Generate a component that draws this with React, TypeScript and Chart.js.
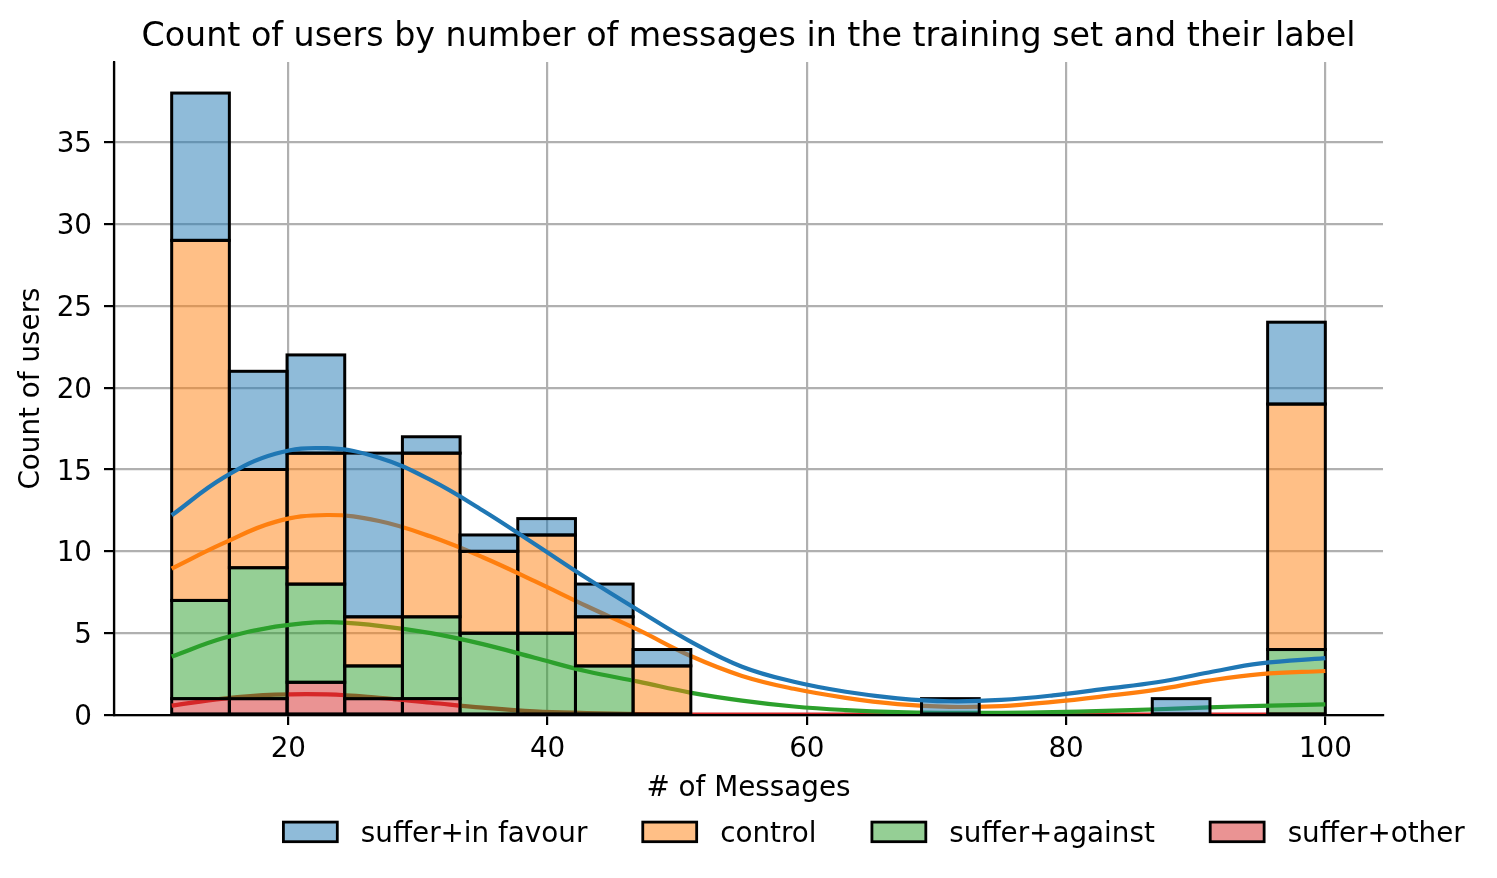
import React, { useEffect, useRef } from "react";
import { Chart, registerables } from "chart.js";

Chart.register(...registerables);

// Stacked histogram (seaborn style) with KDE curves
// - bars are floating segments so each hue layer can be drawn bar -> line -> next bar
// - bar outlines are stroked centred on the edge, like matplotlib

const FONT = "'DejaVu Sans', sans-serif";

const titleText =
  "Count of users by number of messages in the training set and their label";

const binEdges = [
  11, 15.45, 19.9, 24.35, 28.8, 33.25, 37.7, 42.15, 46.6, 51.05, 55.5, 59.95,
  64.4, 68.85, 73.3, 77.75, 82.2, 86.65, 91.1, 95.55, 100,
];

// counts per bin (stack order bottom -> top: other, against, control, favour)
const otherCounts = [1, 1, 2, 1, 1, 0, 0, 0, 0, 0, 0, 0, 0, 0, 0, 0, 0, 0, 0, 0];
const againstCounts = [6, 8, 6, 2, 5, 5, 5, 3, 0, 0, 0, 0, 0, 0, 0, 0, 0, 0, 0, 4];
const controlCounts = [22, 6, 8, 3, 10, 5, 6, 3, 3, 0, 0, 0, 0, 0, 0, 0, 0, 0, 0, 15];
const favourCounts = [9, 6, 6, 10, 1, 1, 1, 2, 1, 0, 0, 0, 0, 1, 0, 0, 0, 1, 0, 5];

// kde curves
const kdeX = [11, 15, 19, 23, 27, 31, 35, 39, 43, 47, 51, 55, 59, 63, 67, 71, 75, 79, 83, 87, 91, 95, 100];
const favourKde = [12.2, 14.5, 15.96, 16.3, 15.72, 14.35, 12.5, 10.45, 8.37, 6.4, 4.5, 2.95, 2.03, 1.42, 1.02, 0.84, 0.92, 1.2, 1.6, 2.0, 2.6, 3.15, 3.47];
const controlKde = [8.95, 10.5, 11.8, 12.22, 11.85, 10.9, 9.64, 8.18, 6.66, 5.2, 3.62, 2.39, 1.6, 1.05, 0.67, 0.5, 0.54, 0.8, 1.15, 1.55, 2.1, 2.5, 2.69];
const againstKde = [3.57, 4.7, 5.4, 5.68, 5.45, 5.0, 4.33, 3.5, 2.67, 2.04, 1.37, 0.88, 0.52, 0.3, 0.17, 0.13, 0.13, 0.17, 0.25, 0.35, 0.47, 0.56, 0.65];
const otherKde = [0.57, 1.0, 1.24, 1.26, 1.05, 0.75, 0.45, 0.22, 0.12, 0.06, 0.03, 0.02, 0.02, 0.02, 0.02, 0.02, 0.02, 0.02, 0.02, 0.02, 0.02, 0.02, 0.02];

const xTicks = [20, 40, 60, 80, 100];
const yTicks = [0, 5, 10, 15, 20, 25, 30, 35];

interface Series {
  label: string;
  counts: number[];
  kde: number[];
  line: string;
  fill: string;
}

// bottom layer first
const series: Series[] = [
  { label: "suffer+other", counts: otherCounts, kde: otherKde, line: "#d62728", fill: "rgba(214,39,40,0.5)" },
  { label: "suffer+against", counts: againstCounts, kde: againstKde, line: "#2ca02c", fill: "rgba(44,160,44,0.5)" },
  { label: "control", counts: controlCounts, kde: controlKde, line: "#ff7f0e", fill: "rgba(255,127,14,0.5)" },
  { label: "suffer+in favour", counts: favourCounts, kde: favourKde, line: "#1f77b4", fill: "rgba(31,119,180,0.5)" },
];

const GRID = "#b0b0b0";

// stroke bar outlines right after each bar dataset is drawn,
// then put the spines back on top (matplotlib draws them above the artists)
const barEdgePlugin = {
  id: "barEdges",
  afterDatasetDraw(chart: any, args: any) {
    const meta = args.meta;
    if (meta.type !== "bar") return;
    const ds = chart.data.datasets[args.index];
    const ctx = chart.ctx;
    ctx.save();
    ctx.lineWidth = 3;
    ctx.strokeStyle = "#000";
    meta.data.forEach((el: any, i: number) => {
      if (ds.data[i].y == null) return;
      const { x, y, base, width } = el.getProps(["x", "y", "base", "width"], true);
      ctx.strokeRect(x - width / 2, Math.min(y, base), width, Math.abs(base - y));
    });
    ctx.restore();
  },
  afterDatasetsDraw(chart: any) {
    const { ctx, chartArea } = chart;
    ctx.save();
    ctx.strokeStyle = "#000";
    ctx.lineWidth = 2.2;
    ctx.beginPath();
    ctx.moveTo(chartArea.left, chartArea.top);
    ctx.lineTo(chartArea.left, chartArea.bottom);
    ctx.lineTo(chartArea.right, chartArea.bottom);
    ctx.stroke();
    ctx.restore();
  },
};

// legend below the x title, matplotlib-like spacing
const legendPlugin = {
  id: "bottomLegend",
  afterDraw(chart: any) {
    const ctx = chart.ctx;
    ctx.save();
    ctx.font = `27.8px ${FONT}`;
    ctx.textBaseline = "alphabetic";
    let x = 282;
    [...series].reverse().forEach((s) => {
      ctx.fillStyle = s.fill;
      ctx.fillRect(x + 1.4, 822.1, 53.9, 19.6);
      ctx.lineWidth = 2.8;
      ctx.strokeStyle = "#000";
      ctx.strokeRect(x + 1.4, 822.1, 53.9, 19.6);
      const tx = x + 56.7 + 22.1;
      ctx.fillStyle = "#000";
      ctx.fillText(s.label, tx, 842);
      x = tx + ctx.measureText(s.label).width + 54;
    });
    ctx.restore();
  },
};

export default function App() {
  const canvasRef = useRef<HTMLCanvasElement>(null);
  const chartRef = useRef<Chart | null>(null);

  useEffect(() => {
    if (!canvasRef.current) return;
    const ctx = canvasRef.current.getContext("2d");
    if (!ctx) return;

    const centers = binEdges.slice(0, -1).map((e, i) => (e + binEdges[i + 1]) / 2);
    const running = centers.map(() => 0);
    const datasets: any[] = [];

    series.forEach((s, k) => {
      const barData = centers.map((c, i) => {
        const lo = running[i];
        const hi = lo + s.counts[i];
        running[i] = hi;
        return { x: c, y: s.counts[i] > 0 ? [lo, hi] : null };
      });
      const order = (series.length - k) * 2;
      datasets.push({
        type: "bar",
        label: s.label,
        data: barData,
        backgroundColor: s.fill,
        borderWidth: 0,
        grouped: false,
        barPercentage: 1,
        categoryPercentage: 1,
        order,
        xAxisID: "x",
        yAxisID: "y",
      });
      datasets.push({
        type: "line",
        label: s.label + " kde",
        data: kdeX.map((x, i) => ({ x, y: s.kde[i] })),
        borderColor: s.line,
        borderWidth: 4.2,
        pointRadius: 0,
        tension: 0.4,
        fill: false,
        order: order - 1,
        xAxisID: "x",
        yAxisID: "y",
      });
    });

    const tickFont = { family: FONT, size: 27.8, lineHeight: 1.2 };

    if (chartRef.current) {
      chartRef.current.destroy();
      chartRef.current = null;
    }

    chartRef.current = new Chart(ctx, {
      type: "bar",
      data: { datasets },
      options: {
        responsive: true,
        maintainAspectRatio: false,
        animation: false,
        layout: { padding: { top: 0, left: 0, right: 0, bottom: 71 } },
        plugins: {
          legend: { display: false },
          tooltip: { enabled: false },
          title: {
            display: true,
            text: titleText,
            color: "#000",
            font: { family: FONT, size: 33.3, weight: "normal", lineHeight: 1.2 },
            padding: { top: 17, bottom: 5 },
          },
        },
        scales: {
          x: {
            type: "linear",
            min: 6.55,
            max: 104.45,
            bounds: "data",
            offset: false,
            afterBuildTicks: (s: any) => {
              s.ticks = xTicks.map((v) => ({ value: v }));
            },
            afterFit: (s: any) => {
              s.height = 92;
            },
            grid: {
              offset: false,
              color: GRID,
              lineWidth: 2.2,
              tickColor: "#000",
              tickWidth: 2.2,
              tickLength: 10,
            },
            border: { display: true, color: "#000", width: 2.2 },
            ticks: { color: "#000", font: tickFont, padding: 8.5, maxRotation: 0, autoSkip: false },
            title: {
              display: true,
              text: "# of Messages",
              color: "#000",
              font: tickFont,
              padding: { top: 0, bottom: 1.2 },
            },
          },
          y: {
            type: "linear",
            position: "left",
            min: 0,
            max: 39.9,
            bounds: "data",
            afterBuildTicks: (s: any) => {
              s.ticks = yTicks.map((v) => ({ value: v }));
            },
            afterFit: (s: any) => {
              s.width = 114;
            },
            grid: {
              color: GRID,
              lineWidth: 2.2,
              tickColor: "#000",
              tickWidth: 2.2,
              tickLength: 10,
            },
            border: { display: true, color: "#000", width: 2.2 },
            ticks: { color: "#000", font: tickFont, padding: 12, labelOffset: 2.8 },
            title: {
              display: true,
              text: "Count of users",
              color: "#000",
              font: tickFont,
              padding: { top: 15.4, bottom: 0 },
            },
          },
          // empty right axis, only keeps the right margin so the title stays centred
          yR: {
            type: "linear",
            position: "right",
            display: true,
            grid: { display: false, drawTicks: false },
            border: { display: false },
            ticks: { display: false },
            afterFit: (s: any) => {
              s.width = 114;
            },
          },
        },
      } as any,
      plugins: [barEdgePlugin, legendPlugin],
    });

    return () => {
      if (chartRef.current) {
        chartRef.current.destroy();
        chartRef.current = null;
      }
    };
  }, []);

  return (
    <div
      style={{
        position: "fixed",
        left: 0,
        top: 0,
        width: 1497,
        height: 878,
        background: "#fff",
      }}
    >
      <canvas ref={canvasRef} aria-label="Count of users by number of messages" />
    </div>
  );
}
